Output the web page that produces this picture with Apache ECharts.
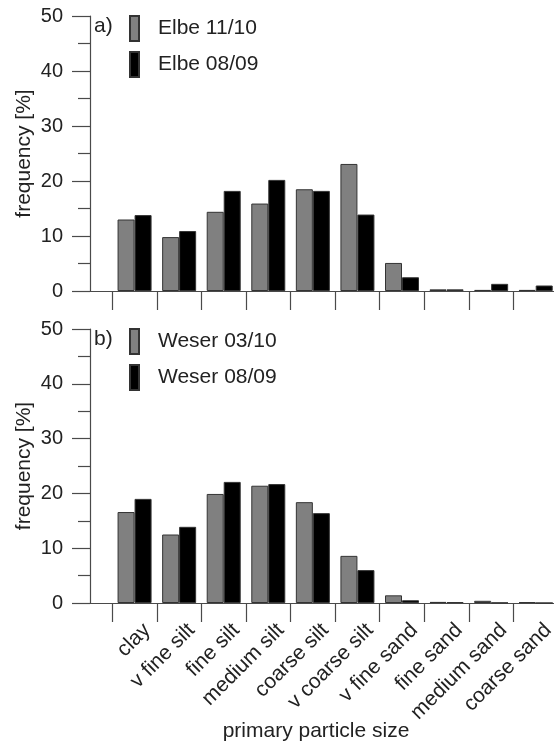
<!DOCTYPE html>
<html>
<head>
<meta charset="utf-8">
<script src="https://cdn.jsdelivr.net/npm/echarts@6/dist/echarts.min.js"></script>
<style>
  html, body { margin: 0; padding: 0; background: #fff; }
  #chart { width: 554px; height: 747px; }
</style>
</head>
<body>
<div id="chart"></div>
<script>
// Primary particle size distributions, two estuaries, two campaigns each
const categories = ['clay', 'v fine silt', 'fine silt', 'medium silt', 'coarse silt',
                    'v coarse silt', 'v fine sand', 'fine sand', 'medium sand', 'coarse sand'];
const elbe1110  = [13.0,  9.8, 14.4, 15.9, 18.5, 23.1, 5.1, 0.3, 0.2, 0.2];
const elbe0809  = [13.8, 10.9, 18.2, 20.2, 18.2, 13.9, 2.5, 0.3, 1.3, 1.0];
const weser0310 = [16.6, 12.5, 19.9, 21.4, 18.4,  8.6, 1.4, 0.2, 0.4, 0.15];
const weser0809 = [19.0, 13.9, 22.1, 21.7, 16.4,  6.0, 0.5, 0.15, 0.05, 0];
const panelLabels = ['a)', 'b)'];
const seriesNames = [['Elbe 11/10', 'Elbe 08/09'], ['Weser 03/10', 'Weser 08/09']];
const panelSeries = [[elbe1110, elbe0809], [weser0310, weser0809]];
const yTicks = { min: 0, max: 50, step: 10 };
const xTitle = 'primary particle size';
const yTitle = 'frequency [%]';

const FONT = '"Liberation Sans", Arial, sans-serif';
const TEXT = '#222';
const AXIS = '#4a4a4a';
const FILLS = ['#808080', '#000000'];

// each category sits at position i+1; ticks mark the borders between categories
const catPos = categories.map((c, i) => i + 1);
const borders = categories.map((c, i) => i + 0.5);
// slanted names hang a little right of their category centre
const LABEL_SHIFT = 0.28;
const labelPos = catPos.map(p => p + LABEL_SHIFT);

const grids = [
  { left: 90, right: -4, top: 16, height: 275, outerBoundsMode: 'none', containLabel: false },
  { left: 90, right: -4, top: 329, height: 274, outerBoundsMode: 'none', containLabel: false }
];

function xAxisFor(k) {
  const last = k === 1;
  return {
    type: 'value', gridIndex: k, min: 0, max: 10.5,
    axisLine: { show: true, onZero: false, lineStyle: { color: AXIS, width: 1.2 } },
    axisTick: { show: true, customValues: borders, length: 19, lineStyle: { color: AXIS, width: 1.2 } },
    splitLine: { show: false },
    axisLabel: last ? {
      show: true, customValues: labelPos, rotate: 45, margin: 24,
      fontSize: 21, fontFamily: FONT, color: TEXT,
      formatter: v => categories[Math.round(v - LABEL_SHIFT) - 1] || ''
    } : { show: false },
    name: last ? xTitle : '',
    nameLocation: 'middle', nameGap: 118, nameMoveOverlap: false,
    nameTextStyle: { fontSize: 21, fontFamily: FONT, color: TEXT, padding: [0, 16, 0, 0] }
  };
}

function yAxisFor(k) {
  return {
    type: 'value', gridIndex: k, min: yTicks.min, max: yTicks.max, interval: yTicks.step,
    axisLine: { show: true, lineStyle: { color: AXIS, width: 1.2 } },
    axisTick: { show: true, length: 18, lineStyle: { color: AXIS, width: 1.2 } },
    minorTick: { show: true, splitNumber: 2, length: 12, lineStyle: { color: AXIS, width: 1.2 } },
    splitLine: { show: false },
    axisLabel: { fontSize: 20, fontFamily: FONT, color: TEXT, margin: 27 },
    name: yTitle, nameLocation: 'middle', nameGap: 55, nameRotate: 90, nameMoveOverlap: false,
    nameTextStyle: { fontSize: 21, fontFamily: FONT, color: TEXT }
  };
}

const series = [];
panelSeries.forEach((pair, k) => {
  pair.forEach((vals, j) => {
    series.push({
      type: 'bar', name: seriesNames[k][j], xAxisIndex: k, yAxisIndex: k,
      barWidth: 17, barGap: '0%',
      itemStyle: { color: FILLS[j], borderColor: '#333', borderWidth: 1 },
      data: vals.map((v, i) => [catPos[i], v])
    });
  });
});

const legendTops = [15, 328];
const option = {
  backgroundColor: '#fff',
  animation: false,
  grid: grids,
  xAxis: [xAxisFor(0), xAxisFor(1)],
  yAxis: [yAxisFor(0), yAxisFor(1)],
  title: panelLabels.map((t, k) => ({
    text: t, left: 94, top: legendTops[k] + 1, padding: 0,
    textStyle: { fontSize: 21, fontWeight: 'normal', fontFamily: FONT, color: TEXT }
  })),
  legend: seriesNames.map((names, k) => ({
    data: names, orient: 'vertical', left: 129, top: legendTops[k], padding: 0,
    itemWidth: 9, itemHeight: 25, itemGap: 9, icon: 'rect',
    textStyle: { fontSize: 21, fontFamily: FONT, color: TEXT, padding: [0, 0, 0, 14] }
  })),
  series: series
};

echarts.init(document.getElementById('chart'), null, { renderer: 'canvas' }).setOption(option);
</script>
</body>
</html>
